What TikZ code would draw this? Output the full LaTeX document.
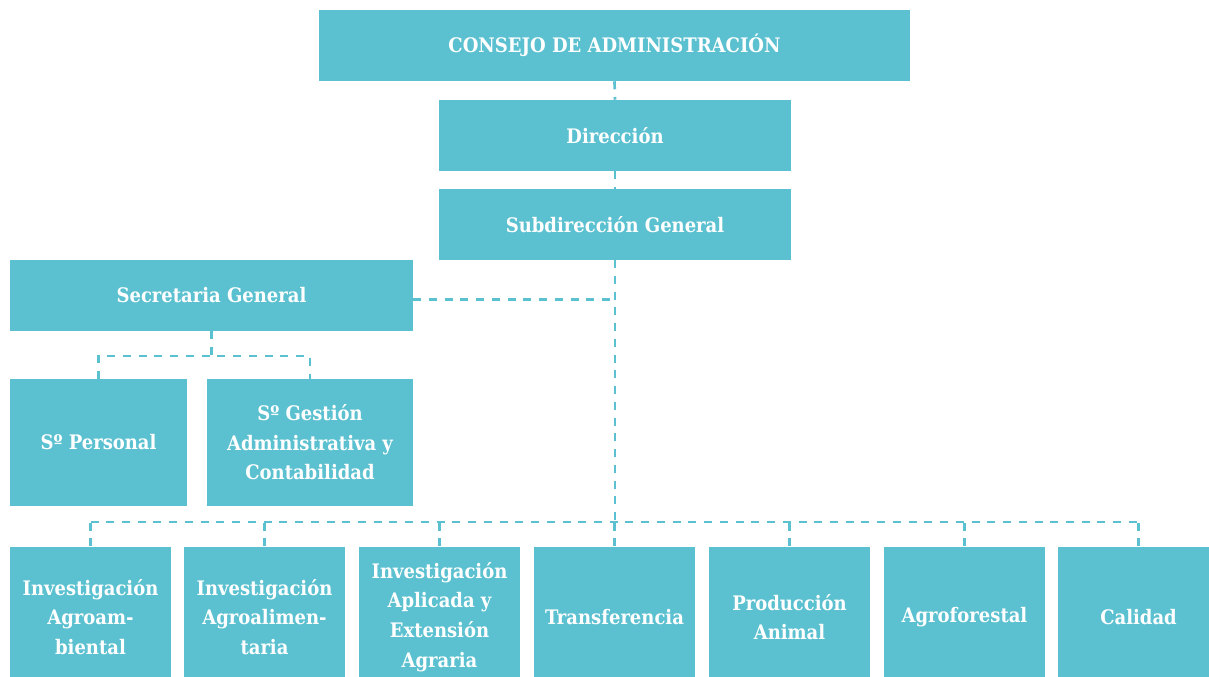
\documentclass[tikz,border=0pt]{standalone}
\usepackage{fontspec}
\setmainfont{DejaVu Serif Condensed}
\usepackage{tikz}
\usetikzlibrary{positioning,calc}
\definecolor{aqua}{HTML}{5BC1D0}

\begin{document}
\begin{tikzpicture}[x=0.75pt,y=-0.75pt,
  box/.style={fill=aqua,text=white,font=\bfseries\fontsize{15}{22.2}\selectfont,align=center,inner sep=0pt},
  wide/.style={box,minimum width=#1,minimum height=53.25pt},
  link/.style={aqua,line width=2pt,dash pattern=on 6pt off 5.8pt}]
  \useasboundingbox (0,0) rectangle (1209,677);
  \clip (0,0) rectangle (1209,677);

  % Top of the chart
  \node[wide=443.25pt] (consejo) at (614.5,45.5) {CONSEJO DE ADMINISTRACIÓN};
  \node[wide=264pt] (direccion) at (615,135.5) {Dirección};
  \node[wide=264pt] (subdir) at (615,224.5) {Subdirección General};
  \draw[link] (consejo.south) -- (direccion.north);
  \draw[link] (direccion.south) -- (subdir.north);

  % Secretaria and its services
  \node[wide=302.25pt] (secretaria) at (211.5,295.5) {Secretaria General};
  \node[box,minimum width=132.75pt,minimum height=95.25pt] (personal) at (98.5,442.5) {Sº Personal};
  \node[box,minimum width=154.5pt,minimum height=95.25pt] (gestion) at (310,442.5) {Sº Gestión\\Administrativa y\\Contabilidad};
  \coordinate (secbus) at (0,356);
  \draw[link] ([yshift=-3pt]secretaria.east) -- ([yshift=-3pt]secretaria.east -| subdir.south);
  \draw[link] (secretaria.south) -- (secretaria.south |- secbus);
  \draw[link] (personal.north) |- (gestion.north |- secbus) -- (gestion.north);

  % Departments
  \coordinate (bus) at (0,522);
  \foreach \name/\x/\txt in {agroamb/90.5/{Investigación\\Agroam-\\biental},
      agroali/264.5/{Investigación\\Agroalimen-\\taria},
      aplicada/439.5/{Investigación\\Aplicada y\\Extensión\\Agraria},
      transf/614.5/{Transferencia},
      animal/789.5/{Producción\\Animal},
      forestal/964.5/{Agroforestal},
      calidad/1138.5/{Calidad}} {
    \node[box,minimum width=120.75pt,minimum height=105.4pt] (\name) at (\x,617) {\txt};
    \draw[link] (\name.north) -- (\name.north |- bus);
  }
  \draw[link] (agroamb.north |- bus) -- (calidad.north |- bus);
  \draw[link] (subdir.south) -- (subdir.south |- bus);
\end{tikzpicture}
\end{document}
